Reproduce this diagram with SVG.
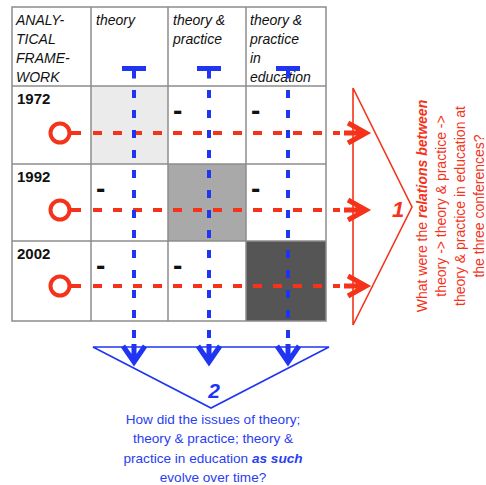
<svg xmlns="http://www.w3.org/2000/svg" width="486" height="485" viewBox="0 0 486 485">
  <style>
    .grid { stroke: #8c8c8c; stroke-width: 1.5; fill: none; }
    .hdr { font-family: "Liberation Sans", Arial, sans-serif; font-size: 14px; font-style: italic; fill: #111; }
    .year { font-family: "Liberation Sans", Arial, sans-serif; font-size: 15px; font-weight: bold; fill: #111; }
    .mark { font-family: "Liberation Sans", Arial, sans-serif; font-size: 28px; font-weight: bold; fill: #111; }
    .red-dash { stroke: #f5331a; stroke-width: 4; stroke-dasharray: 9 11; fill: none; }
    .blue-dash { stroke: #1f35f2; stroke-width: 4; stroke-dasharray: 8 12; fill: none; }
    .red-line { stroke: #f5331a; stroke-width: 1.6; fill: none; }
    .blue-line { stroke: #1f35f2; stroke-width: 1.6; fill: none; }
    .red-text { font-family: "Liberation Sans", Arial, sans-serif; font-size: 14px; fill: #f5331a; text-anchor: middle; }
    .blue-text { font-family: "Liberation Sans", Arial, sans-serif; font-size: 13.6px; fill: #2a3df2; text-anchor: middle; }
    .em { font-weight: bold; font-style: italic; }
  </style>
  <defs>
    <!-- open-circle start of each year row -->
    <g id="origin">
      <circle cx="0" cy="0" r="9.5" fill="#fff" stroke="#f5331a" stroke-width="4"/>
      <line x1="11" y1="0" x2="21" y2="0" stroke="#f5331a" stroke-width="4"/>
    </g>
    <!-- bar cap at the top of each column line -->
    <path id="cap" d="M -12,-2.5 H 12 V 2.5 H 2 V 10 H -2 V 2.5 H -12 Z" fill="#1f35f2"/>
    <!-- arrow heads -->
    <path id="head-right" d="M -22,0 H -4 M -18,-10 L 0,0 L -18,10" fill="none" stroke="#f5331a" stroke-width="5" stroke-linejoin="miter"/>
    <path id="head-down" d="M 0,-18 V -4 M -11,-16 L 0,0 L 11,-16" fill="none" stroke="#1f35f2" stroke-width="5" stroke-linejoin="miter"/>
  </defs>

  <!-- table -->
  <g id="table">
    <rect x="91" y="86" width="77" height="78" fill="#ebebeb"/>
    <rect x="168" y="164" width="78" height="77" fill="#a9a9a9"/>
    <rect x="246" y="241" width="80" height="80" fill="#555555"/>
    <rect class="grid" x="12" y="7" width="314" height="314"/>
    <line class="grid" x1="91" y1="7" x2="91" y2="321"/>
    <line class="grid" x1="168" y1="7" x2="168" y2="321"/>
    <line class="grid" x1="246" y1="7" x2="246" y2="321"/>
    <line class="grid" x1="12" y1="86" x2="326" y2="86"/>
    <line class="grid" x1="12" y1="164" x2="326" y2="164"/>
    <line class="grid" x1="12" y1="241" x2="326" y2="241"/>
  </g>

  <g id="header-framework">
    <text class="hdr" x="16" y="25">ANALY-</text>
    <text class="hdr" x="16" y="44">TICAL</text>
    <text class="hdr" x="16" y="63">FRAME-</text>
    <text class="hdr" x="16" y="82">WORK</text>
  </g>
  <g id="header-theory">
    <text class="hdr" x="96" y="25">theory</text>
  </g>
  <g id="header-practice">
    <text class="hdr" x="173" y="25">theory &amp;</text>
    <text class="hdr" x="173" y="44">practice</text>
  </g>
  <g id="header-education">
    <text class="hdr" x="250" y="25">theory &amp;</text>
    <text class="hdr" x="250" y="44">practice</text>
    <text class="hdr" x="250" y="63">in</text>
    <text class="hdr" x="250" y="82">education</text>
  </g>

  <g id="row-1972">
    <text class="year" x="17" y="104">1972</text>
    <text class="mark" x="173" y="120">-</text>
    <text class="mark" x="251" y="120">-</text>
  </g>
  <g id="row-1992">
    <text class="year" x="17" y="182">1992</text>
    <text class="mark" x="96" y="198">-</text>
    <text class="mark" x="251" y="198">-</text>
  </g>
  <g id="row-2002">
    <text class="year" x="17" y="259">2002</text>
    <text class="mark" x="96" y="275">-</text>
    <text class="mark" x="173" y="275">-</text>
  </g>

  <!-- connectors -->
  <g id="connectors">
    <!-- rows: across each conference -->
    <use href="#origin" x="60" y="133"/>
    <use href="#origin" x="60" y="210"/>
    <use href="#origin" x="60" y="286"/>
    <line class="red-dash" x1="93" y1="133" x2="340" y2="133"/>
    <line class="red-dash" x1="93" y1="210" x2="340" y2="210"/>
    <line class="red-dash" x1="93" y1="286" x2="340" y2="286"/>
    <use href="#head-right" x="366" y="133"/>
    <use href="#head-right" x="366" y="210"/>
    <use href="#head-right" x="366" y="286"/>

    <!-- columns: each issue over time -->
    <use href="#cap" x="134" y="68.5"/>
    <use href="#cap" x="209" y="68.5"/>
    <use href="#cap" x="288" y="68.5"/>
    <line class="blue-dash" x1="134" y1="90" x2="134" y2="340"/>
    <line class="blue-dash" x1="209" y1="90" x2="209" y2="340"/>
    <line class="blue-dash" x1="288" y1="90" x2="288" y2="340"/>
    <use href="#head-down" x="134" y="362"/>
    <use href="#head-down" x="209" y="362"/>
    <use href="#head-down" x="288" y="362"/>
  </g>

  <!-- question 1: relations at each conference -->
  <g id="question-1">
    <path class="red-line" d="M 353,88 V 325 L 412,207 Z"/>
    <text x="398" y="217" font-family="Liberation Sans, Arial, sans-serif" font-size="22" font-weight="bold" font-style="italic" fill="#f5331a" text-anchor="middle">1</text>
    <g transform="translate(427,206) rotate(-90)">
      <text class="red-text" x="0" y="0">What were the <tspan class="em">relations between</tspan></text>
      <text class="red-text" x="0" y="19">theory -&gt; theory &amp; practice -&gt;</text>
      <text class="red-text" x="0" y="38">theory &amp; practice in education at</text>
      <text class="red-text" x="0" y="57">the three conferences?</text>
    </g>
  </g>

  <!-- question 2: each issue over time -->
  <g id="question-2">
    <path class="blue-line" d="M 93,347 H 329 L 211,408 Z"/>
    <text x="214" y="398" font-family="Liberation Sans, Arial, sans-serif" font-size="21" font-weight="bold" font-style="italic" fill="#1f35f2" text-anchor="middle">2</text>
    <text class="blue-text" x="213" y="424">How did the issues of theory;</text>
    <text class="blue-text" x="213" y="443">theory &amp; practice; theory &amp;</text>
    <text class="blue-text" x="213" y="463">practice in education <tspan class="em">as such</tspan></text>
    <text class="blue-text" x="213" y="482">evolve over time?</text>
  </g>
</svg>
